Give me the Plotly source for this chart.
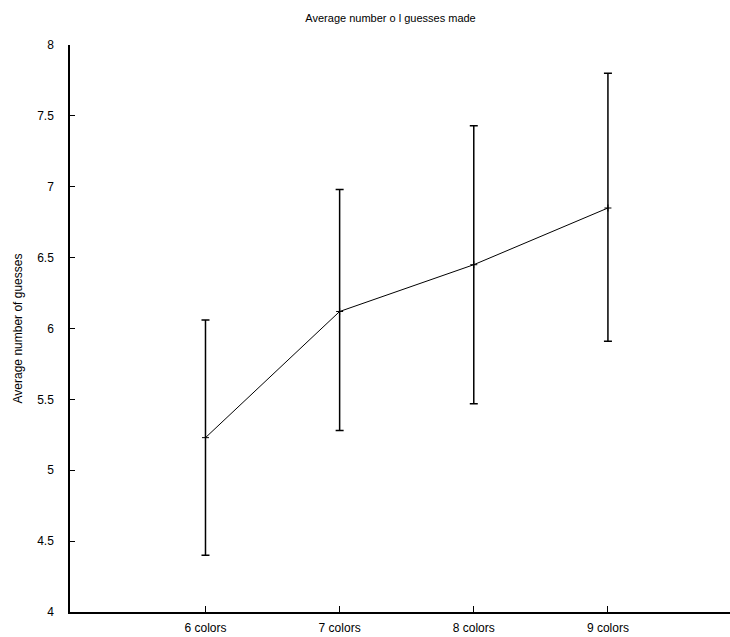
import plotly.graph_objects as go

categories = ["6 colors", "7 colors", "8 colors", "9 colors"]
means = [5.23, 6.12, 6.45, 6.85]
err_plus = [0.83, 0.86, 0.98, 0.95]
err_minus = [0.83, 0.84, 0.98, 0.94]
y_ticks = [4, 4.5, 5, 5.5, 6, 6.5, 7, 7.5, 8]

font_family = "Liberation Sans Narrow, Liberation Sans, Arial, sans-serif"

fig = go.Figure()
fig.add_trace(go.Scatter(
    x=categories, y=means,
    mode="lines+markers",
    line=dict(color="black", width=1),
    marker=dict(symbol="cross-thin", size=5, color="black",
                line=dict(color="black", width=1)),
    error_y=dict(type="data", symmetric=False, array=err_plus,
                 arrayminus=err_minus, color="black", thickness=1.5, width=4),
    showlegend=False,
))

fig.update_layout(
    width=730, height=637,
    margin=dict(l=70, r=0, t=45, b=25),
    paper_bgcolor="white", plot_bgcolor="white",
    title=dict(text="Average number o l guesses made", x=0.535, xanchor="center",
               y=0.972, yanchor="middle",
               font=dict(family=font_family, size=11, color="black")),
    font=dict(family=font_family, size=12, color="black"),
)
fig.update_xaxes(
    type="category", range=[-1.01, 3.91],
    showline=True, linecolor="black", linewidth=1.5,
    ticks="inside", ticklen=6, tickcolor="black", tickwidth=1,
    showgrid=False, zeroline=False, ticklabelstandoff=4,
    tickfont=dict(family=font_family, size=12, color="black"),
)
fig.update_yaxes(
    range=[4, 8], tickvals=y_ticks,
    ticktext=[str(v) for v in y_ticks],
    showline=True, linecolor="black", linewidth=1.5,
    ticks="inside", ticklen=5, tickcolor="black", tickwidth=1,
    showgrid=False, zeroline=False, ticklabelstandoff=12,
    title=dict(text="Average number of guesses", standoff=12,
               font=dict(family=font_family, size=12, color="black")),
    tickfont=dict(family=font_family, size=12, color="black"),
)

fig.write_html("out.html")
